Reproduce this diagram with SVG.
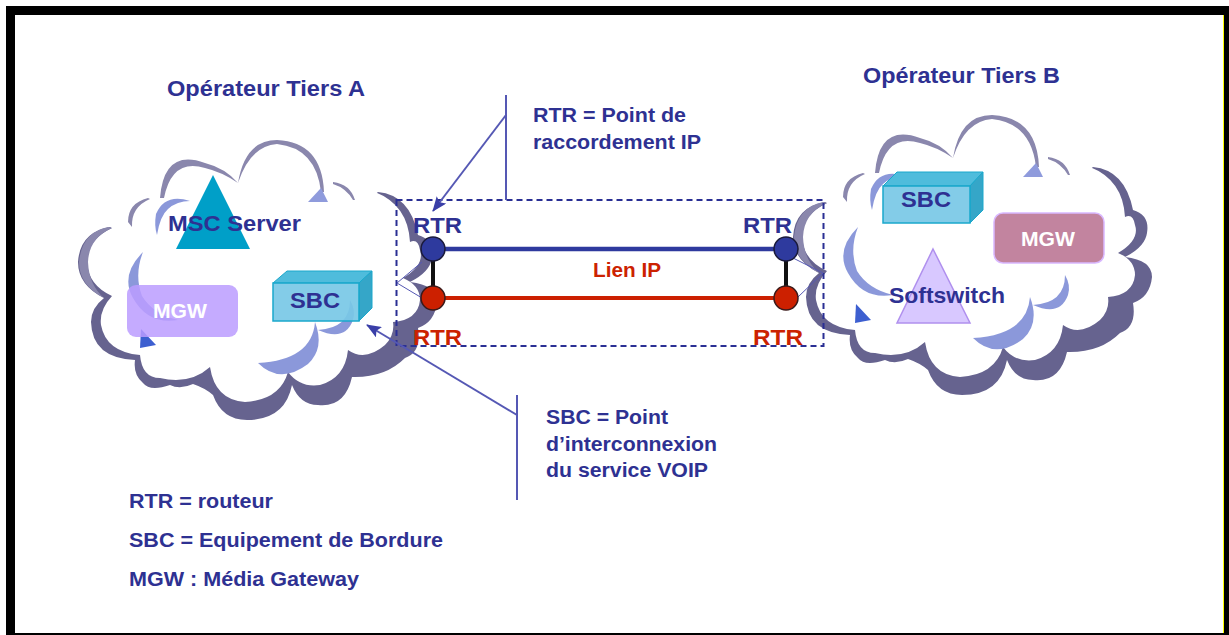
<svg xmlns="http://www.w3.org/2000/svg" xmlns:xlink="http://www.w3.org/1999/xlink" width="1229" height="635" viewBox="0 0 1229 635">
<style>
text{font-family:"Liberation Sans",Arial,sans-serif;font-weight:bold}
.t{fill:#2e3192;font-size:20px}
.c{fill:#2e3192;font-size:22px}
.w{fill:#fff;font-size:20px}
.r{fill:#cc2200;font-size:22px}
.lead{fill:none;stroke:#5558b4;stroke-width:2}
.rim{fill:#8a87ad}
.blue{fill:#8592d8;fill-opacity:.95}
.front{fill:#78c8e6;fill-opacity:.92;stroke:#1aa8cc;stroke-width:1.5}
.top{fill:#4fbcdc;stroke:#1aa8cc}
.side{fill:#35a6c8;stroke:#1aa8cc}
</style>
<defs>
<marker id="ah" markerWidth="16" markerHeight="12" refX="14" refY="6" orient="auto" markerUnits="userSpaceOnUse"><path d="M0,0L15,6L0,12L3,6Z" fill="#3a3fa8"/></marker>
<g id="cloud">
<path fill="#66638f" d="M378,192Q410,195 418,235Q435,240 432,258Q430,272 410,282Q437,285 437,302Q435,322 418,328Q422,352 405,358Q385,378 352,377Q345,408 318,405Q300,405 292,385Q285,420 247,420Q222,420 213,395Q205,388 193,384Q180,390 170,385Q150,392 143,383Q133,375 135,360Q92,358 91,322Q91,308 104,298Q78,285 78,262Q80,232 110,227L240,300Z"/>
<path fill="#fff" d="M112,228Q87,240 87,262Q88,285 112,296Q99,310 101,325Q106,352 140,355Q142,378 160,378Q190,385 210,367Q215,400 245,402Q280,400 288,372Q300,388 320,385Q345,378 348,350Q365,362 385,345Q395,335 393,322Q418,320 420,300Q420,285 403,278Q425,265 420,250Q418,238 410,242Q408,205 375,192Z"/>
<path class="rim" d="M108,227Q82,232 79,262Q79,285 104,298Q89,285 88,262Q89,238 112,228Z"/>
<path class="rim" d="M160,198Q164,148 205,163Q225,168 238,183Q222,172 205,168Q172,158 164,198Z"/>
<path class="rim" d="M238,183Q245,140 277,140Q322,142 324,192L321,192Q316,148 277,144Q250,146 238,183Z"/>
<path class="rim" d="M333,182Q350,184 355,200L353,200Q346,188 333,184Z"/>
<path class="rim" d="M148,198Q128,203 128,222L132,227Q131,207 150,199Z"/>
<path fill="#8f9bdc" d="M308,202L328,202L321,188Z"/>
<path class="blue" d="M190,201Q165,193 156,214Q154,226 157,235Q160,216 168,209Q177,201 190,201Z"/>
<path class="blue" d="M143,252Q120,275 133,298Q148,325 178,320Q153,314 142,296Q134,275 143,252Z"/>
<path class="blue" d="M315,322Q312,360 258,363Q280,385 308,364Q325,348 315,322Z"/>
<path class="blue" d="M350,300Q350,328 318,330Q345,342 353,320Q356,310 350,300Z"/>
<path fill="#3d5fd0" d="M141,329L156,345L140,348Z"/>
</g>
</defs>
<rect width="1229" height="635" fill="#fff"/>
<path fill="#000" fill-rule="evenodd" d="M6,6H1229V635H6ZM15,15V633H1224V15Z"/>
<rect x="1223" y="15" width="1" height="618" fill="#ffff00"/>
<g id="cloud-a"><use xlink:href="#cloud" href="#cloud"/></g>
<g id="cloud-b"><use xlink:href="#cloud" href="#cloud" transform="translate(715,-25)"/></g>
<g id="connectors">
<rect x="396.500" y="200" width="427" height="146" fill="none" stroke="#2a2f94" stroke-width="2" stroke-dasharray="6 4"/>
<path class="lead" d="M506,95V200"/>
<path class="lead" d="M506,115L433,211" marker-end="url(#ah)"/>
<path class="lead" d="M517,395V500"/>
<path class="lead" d="M517,415L367,325" marker-end="url(#ah)"/>
<path class="lead" style="stroke-width:1" d="M422,262L397,283L422,298"/>
<path class="lead" style="stroke-width:1" d="M793,258L823,273L798,297"/>
<path d="M433,249V298M786,249V298" stroke="#111" stroke-width="4" fill="none"/>
<path d="M433,249H786" stroke="#2e3a9e" stroke-width="4.500" fill="none"/>
<path d="M433,298H786" stroke="#cc2000" stroke-width="4" fill="none"/>
</g>
<g id="rtr-blue-left"><circle cx="433" cy="249" r="12" fill="#2e3a9e" stroke="#1a1a3a" stroke-width="1.500"/><text class="c" x="413" y="233" textLength="49" lengthAdjust="spacingAndGlyphs">RTR</text></g>
<g id="rtr-blue-right"><circle cx="786" cy="249" r="12" fill="#2e3a9e" stroke="#1a1a3a" stroke-width="1.500"/><text class="c" x="743" y="233" textLength="49" lengthAdjust="spacingAndGlyphs">RTR</text></g>
<g id="rtr-red-left"><circle cx="433" cy="298" r="12" fill="#cc2000" stroke="#3a1a1a" stroke-width="1.500"/><text class="r" x="413" y="345" textLength="49" lengthAdjust="spacingAndGlyphs">RTR</text></g>
<g id="rtr-red-right"><circle cx="786" cy="298" r="12" fill="#cc2000" stroke="#3a1a1a" stroke-width="1.500"/><text class="r" x="753" y="345" textLength="50" lengthAdjust="spacingAndGlyphs">RTR</text></g>
<g id="msc-server"><path d="M213,175L250,249H176Z" fill="#009fc8"/><text class="c" x="168" y="231" textLength="133" lengthAdjust="spacingAndGlyphs">MSC Server</text></g>
<g id="mgw-a"><rect x="127" y="285" width="111" height="52" rx="9" fill="#bb9cff" fill-opacity=".85"/><text class="w" x="153" y="318" textLength="54" lengthAdjust="spacingAndGlyphs">MGW</text></g>
<g id="sbc-a"><path class="top" d="M273,283L287,271H372L359,283Z"/><path class="side" d="M359,283L372,271V308L359,321Z"/><rect class="front" x="273" y="283" width="86" height="38"/><text class="c" x="290" y="308" textLength="50" lengthAdjust="spacingAndGlyphs">SBC</text></g>
<g id="sbc-b"><path class="top" d="M883,186L897,172H983L970,186Z"/><path class="side" d="M970,186L983,172V210L970,223Z"/><rect class="front" x="883" y="186" width="87" height="37"/><text class="c" x="901" y="207" textLength="50" lengthAdjust="spacingAndGlyphs">SBC</text></g>
<g id="mgw-b"><rect x="994" y="213" width="110" height="50" rx="9" fill="#c2849f" stroke="#d9b8ff" stroke-width="1.500"/><text class="w" x="1021" y="246" textLength="54" lengthAdjust="spacingAndGlyphs">MGW</text></g>
<g id="softswitch"><path d="M933,249L970,323H897Z" fill="#d8c8ff" stroke="#b090ee" stroke-width="1.500"/><text class="c" x="889" y="303" textLength="116" lengthAdjust="spacingAndGlyphs">Softswitch</text></g>
<g id="labels">
<text class="c" x="167" y="96" textLength="198" lengthAdjust="spacingAndGlyphs">Opérateur Tiers A</text>
<text class="c" x="863" y="83" textLength="197" lengthAdjust="spacingAndGlyphs">Opérateur Tiers B</text>
<text class="t" x="533" y="122" textLength="153" lengthAdjust="spacingAndGlyphs">RTR = Point de</text>
<text class="t" x="533" y="149" textLength="168" lengthAdjust="spacingAndGlyphs">raccordement IP</text>
<text class="r" style="font-size:20px" x="593" y="277" textLength="68" lengthAdjust="spacingAndGlyphs">Lien IP</text>
<text class="t" x="546" y="424" textLength="122" lengthAdjust="spacingAndGlyphs">SBC = Point</text>
<text class="t" x="546" y="451" textLength="171" lengthAdjust="spacingAndGlyphs">d’interconnexion</text>
<text class="t" x="546" y="477" textLength="162" lengthAdjust="spacingAndGlyphs">du service VOIP</text>
<text class="t" x="129" y="508" textLength="144" lengthAdjust="spacingAndGlyphs">RTR = routeur</text>
<text class="t" x="129" y="547" textLength="314" lengthAdjust="spacingAndGlyphs">SBC = Equipement de Bordure</text>
<text class="t" x="129" y="586" textLength="230" lengthAdjust="spacingAndGlyphs">MGW : Média Gateway</text>
</g>
</svg>
